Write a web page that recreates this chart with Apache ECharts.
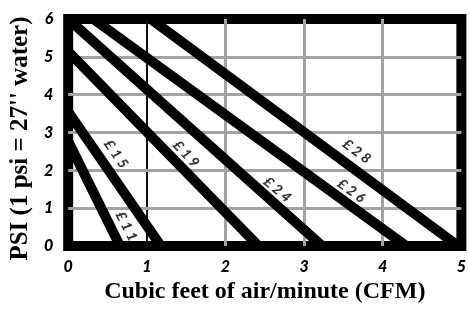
<!DOCTYPE html>
<html>
<head>
<meta charset="utf-8">
<script src="https://cdn.jsdelivr.net/npm/echarts@6/dist/echarts.min.js"></script>
<style>
  html, body { margin: 0; padding: 0; background: #fff; }
  #chart { width: 469px; height: 309px; }
</style>
</head>
<body>
<div id="chart"></div>
<script>
    // flow lines, each one runs from a start point down to psi = 0
    const lineNames = ['£11', '£15', '£19', '£24', '£26', '£28']
    const cfmAtStart = [0, 0, 0, 0, 0.32, 1.05]
    const psiAtStart = [2.77, 3.55, 5.14, 6.0, 6, 6]
    const cfmAtZero = [0.66, 1.18, 2.42, 3.23, 4.30, 4.96]

    // where the line names sit
    const labelCfm = [0.74, 0.61, 1.50, 2.66, 3.60, 3.67]
    const labelPsi = [0.52, 2.43, 2.43, 1.49, 1.46, 2.50]
    const labelAngle = [-63, -55, -47, -40, -36, -36]

    const xTicks = [0, 1, 2, 3, 4, 5]
    const yTicks = [0, 1, 2, 3, 4, 5, 6]

    let myChart = echarts.init(document.getElementById('chart'))

    // grid lines inside the frame (the frame itself is the grid border)
    let gridLines = []
    for (let i = 1; i < xTicks.length - 1; i++) {
        gridLines.push({
            xAxis: xTicks[i],
            lineStyle: i === 1 ? { color: '#111', width: 2 } : { color: '#a3a3a3', width: 3 }
        })
    }
    for (let i = 1; i < yTicks.length - 1; i++) {
        gridLines.push({ yAxis: yTicks[i], lineStyle: { color: '#a3a3a3', width: 3 } })
    }

    let series = []
    for (let i = 0; i < lineNames.length; i++) {
        series.push({
            name: lineNames[i],
            type: 'line',
            data: [[cfmAtStart[i], psiAtStart[i]], [cfmAtZero[i], 0]],
            symbol: 'none',
            clip: true,
            silent: true,
            z: 3,
            lineStyle: { color: '#000', width: 10 },
            markLine: i === 0 ? {
                z: 1,
                symbol: 'none',
                silent: true,
                label: { show: false },
                lineStyle: { type: 'solid' },
                data: gridLines
            } : undefined
        })
    }

    let labelData = []
    for (let i = 0; i < lineNames.length; i++) {
        labelData.push({
            value: [labelCfm[i], labelPsi[i]],
            label: {
                rotate: labelAngle[i],
                formatter: lineNames[i].split('').join('\u2009\u2009')
            }
        })
    }
    series.push({
        type: 'scatter',
        data: labelData,
        symbolSize: 1,
        itemStyle: { color: 'rgba(0,0,0,0)' },
        silent: true,
        z: 4,
        label: {
            show: true,
            position: 'inside',
            color: '#000',
            fontFamily: 'Lato',
            fontStyle: 'italic',
            fontWeight: 900,
            fontSize: 14
        }
    })

    let option = {
        animation: false,
        backgroundColor: '#fff',
        grid: {
            left: 68,
            right: 0,
            top: 19,
            bottom: 60,
            show: true,
            borderColor: '#000',
            borderWidth: 10,
            backgroundColor: 'transparent'
        },
        xAxis: {
            type: 'value',
            min: xTicks[0],
            max: xTicks[xTicks.length - 1],
            interval: 1,
            name: 'Cubic feet of air/minute (CFM)',
            nameLocation: 'middle',
            nameGap: 30,
            nameTextStyle: {
                fontFamily: 'Liberation Serif',
                fontWeight: 'bold',
                fontSize: 24,
                color: '#000'
            },
            axisLine: { show: false },
            axisTick: { show: false },
            axisLabel: {
                margin: 13,
                color: '#000',
                fontFamily: 'Lato',
                fontStyle: 'italic',
                fontWeight: 900,
                fontSize: 16
            },
            splitLine: { show: false }
        },
        yAxis: {
            type: 'value',
            min: yTicks[0],
            max: yTicks[yTicks.length - 1],
            interval: 1,
            name: "PSI (1 psi = 27'' water)",
            nameLocation: 'middle',
            nameRotate: 90,
            nameGap: 34,
            nameTextStyle: {
                fontFamily: 'Liberation Serif',
                fontWeight: 'bold',
                fontSize: 25,
                color: '#000',
                padding: [0, 12, 0, 0]
            },
            axisLine: { show: false },
            axisTick: { show: false },
            axisLabel: {
                margin: 15,
                color: '#000',
                fontFamily: 'Lato',
                fontStyle: 'italic',
                fontWeight: 900,
                fontSize: 16
            },
            splitLine: { show: false }
        },
        series: series
    }

    myChart.setOption(option)
</script>
</body>
</html>
